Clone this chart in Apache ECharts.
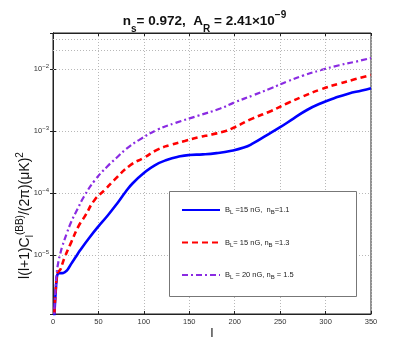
<!DOCTYPE html>
<html>
<head>
<meta charset="utf-8">
<script src="https://cdn.jsdelivr.net/npm/echarts@6/dist/echarts.min.js"></script>
<style>
  html, body { margin: 0; padding: 0; background: #fff; }
  #chart { width: 409px; height: 354px; }
</style>
</head>
<body>
<div id="chart"></div>
<script>
// multipole l and the B-mode spectra
const blueL = [1, 2, 3, 4, 5, 7, 10, 13, 16, 20, 25, 30, 40, 50, 60, 70, 80, 88, 100, 112, 125, 140, 150, 165, 180, 195, 210, 220, 235, 250, 265, 280, 295, 310, 325, 340, 350]
const blueVals = [8e-7, 1.5e-6, 2.6e-6, 4.0e-6, 4.9e-6, 5.1e-6, 5.1e-6, 5.3e-6, 5.8e-6, 7.2e-6, 9.3e-6, 1.2e-5, 1.9e-5, 2.9e-5, 4.3e-5, 6.6e-5, 1.05e-4, 1.45e-4, 2.1e-4, 2.8e-4, 3.4e-4, 3.9e-4, 4.1e-4, 4.2e-4, 4.4e-4, 4.75e-4, 5.4e-4, 6.3e-4, 8.5e-4, 1.15e-3, 1.6e-3, 2.2e-3, 2.8e-3, 3.4e-3, 4.0e-3, 4.5e-3, 4.9e-3]

const redL = [1, 2, 3, 4, 5, 8, 10, 13, 20, 28, 35, 46, 57, 67, 85, 100, 115, 130, 145, 160, 175, 190, 200, 220, 240, 258, 275, 295, 315, 332, 350]
const redVals = [8e-7, 1.6e-6, 2.8e-6, 4.2e-6, 5.2e-6, 5.8e-6, 7e-6, 9.3e-6, 1.6e-5, 2.9e-5, 4.2e-5, 7.8e-5, 1.12e-4, 1.6e-4, 2.8e-4, 3.7e-4, 5.0e-4, 6.0e-4, 6.9e-4, 7.9e-4, 8.8e-4, 1.0e-3, 1.15e-3, 1.6e-3, 2.1e-3, 2.8e-3, 3.6e-3, 4.7e-3, 5.8e-3, 6.8e-3, 8.0e-3]

const purpleL = [1, 2, 3, 4, 6, 8, 10, 15, 20, 27, 34, 46, 60, 70, 81, 95, 115, 135, 159, 184, 200, 221, 240, 258, 275, 295, 315, 332, 350]
const purpleVals = [8e-7, 1.8e-6, 3.2e-6, 5e-6, 7.9e-6, 1.05e-5, 1.35e-5, 2.2e-5, 3.4e-5, 5.5e-5, 8.7e-5, 1.6e-4, 2.7e-4, 3.7e-4, 5.2e-4, 7.2e-4, 1.05e-3, 1.35e-3, 1.75e-3, 2.3e-3, 2.9e-3, 3.8e-3, 4.9e-3, 6.3e-3, 7.8e-3, 9.6e-3, 1.15e-2, 1.3e-2, 1.5e-2]

const seriesNames = ['B_L =15 nG,  n_B=1.1', 'B_L= 15 nG, n_B =1.3', 'B_L = 20 nG, n_B = 1.5']

const font = 'Liberation Sans, Arial, sans-serif'
const gridColor = '#b8b8b8'

function pairs(xs, ys) {
  return xs.map((x, i) => [x, ys[i]])
}

// minor log grid lines at 2..9 x 10^n
const minorLines = []
for (let n = -6; n <= -2; n++) {
  for (let k = 2; k <= 9; k++) {
    const v = k * Math.pow(10, n)
    if (v > 1.12e-6 && v < 0.038) minorLines.push({ yAxis: v })
  }
}

// turn "B_L ... n_B" into rich text with subscripts
function subRich(s, base, sub) {
  return s.replace(/([A-Za-z])_([A-Za-z])/g, '{' + base + '|$1}{' + sub + '|$2}')
    .replace(/(^|\})([^{]+)(?=\{|$)/g, '$1{' + base + '|$2}')
}

const chart = echarts.init(document.getElementById('chart'))

chart.setOption({
  backgroundColor: '#fff',
  animation: false,
  textStyle: { fontFamily: font },
  title: {
    left: 'center',
    top: 5,
    text: '{n|n}{s|s}{n|= 0.972,  A}{s|R}{n| = 2.41×10}{e|−9}',
    textStyle: {
      rich: {
        n: { fontSize: 13.5, color: '#111', fontFamily: font, verticalAlign: 'bottom' },
        s: { fontSize: 10, color: '#111', fontFamily: font, padding: [0, 0, -6, 0], verticalAlign: 'bottom' },
        e: { fontSize: 10, color: '#111', fontFamily: font, padding: [0, 0, 8, 0], verticalAlign: 'bottom' },
      },
    },
  },
  grid: {
    left: 53,
    right: 38,
    top: 33,
    bottom: 40,
    outerBoundsMode: 'none',
    show: true,
    borderColor: '#222',
    borderWidth: 1,
  },
  legend: {
    orient: 'vertical',
    left: 176,
    top: 201,
    z: 200,
    itemWidth: 38,
    itemHeight: 10,
    itemGap: 23,
    data: seriesNames,
    itemStyle: { opacity: 0 },
    formatter: function (name) {
      return subRich(name, 'n', 's')
    },
    textStyle: {
      rich: {
        n: { fontSize: 7.5, color: '#222', fontFamily: font },
        s: { fontSize: 6, color: '#222', fontFamily: font, padding: [5, 0, 0, 0] },
      },
    },
  },
  graphic: [
    {
      type: 'rect',
      z: 100,
      shape: { x: 169.5, y: 191.5, width: 187, height: 105 },
      style: { fill: '#fff', stroke: '#777', lineWidth: 1 },
    },
  ],
  xAxis: [
    {
      type: 'value',
      min: 0,
      max: 350,
      interval: 50,
      name: 'l',
      nameLocation: 'middle',
      nameGap: 13,
      nameMoveOverlap: false,
      nameTextStyle: { fontSize: 13, color: '#111', fontFamily: font },
      axisLine: { lineStyle: { color: '#222' } },
      axisTick: { inside: true, length: 3, lineStyle: { color: '#222' } },
      axisLabel: { fontSize: 7.5, color: '#333', margin: 4 },
      splitLine: { show: true, lineStyle: { color: gridColor, type: [1, 2] } },
    },
    {
      type: 'value',
      position: 'top',
      min: 0,
      max: 350,
      interval: 50,
      axisLine: { lineStyle: { color: '#222' } },
      axisTick: { inside: true, length: 3, lineStyle: { color: '#222' } },
      axisLabel: { show: false },
      splitLine: { show: false },
    },
  ],
  yAxis: [
    {
      type: 'log',
      min: 1.12e-6,
      max: 0.038,
      name: '{n|l(l+1)C}{s|l}{e|(BB)}{n|/(2π)(μK)}{e|2}',
      nameLocation: 'middle',
      nameGap: 17,
      nameMoveOverlap: false,
      nameTextStyle: {
        padding: [0, 84, 0, 0],
        rich: {
          n: { fontSize: 14, color: '#111', fontFamily: font },
          s: { fontSize: 10, color: '#111', fontFamily: font, padding: [0, 0, -9, 0] },
          e: { fontSize: 10, color: '#111', fontFamily: font, padding: [0, 0, 11, 0] },
        },
      },
      axisLine: { lineStyle: { color: '#222' } },
      axisTick: { inside: true, length: 3, lineStyle: { color: '#222' } },
      axisLabel: {
        margin: 4,
        formatter: function (v) {
          const e = Math.log10(v)
          if (Math.abs(e - Math.round(e)) > 0.01) return ''
          return '{b|10}{e|' + String(Math.round(e)).replace('-', '−') + '}'
        },
        rich: {
          b: { fontSize: 7.5, color: '#333', fontFamily: font },
          e: { fontSize: 6, color: '#333', fontFamily: font, padding: [0, 0, 6, 0] },
        },
      },
      splitLine: { show: true, lineStyle: { color: gridColor, type: [1, 2] } },
    },
    {
      type: 'log',
      position: 'right',
      min: 1.12e-6,
      max: 0.038,
      axisLine: { lineStyle: { color: '#222' } },
      axisTick: { inside: true, length: 3, lineStyle: { color: '#222' } },
      axisLabel: { show: false },
      splitLine: { show: false },
    },
  ],
  series: [
    {
      name: seriesNames[0],
      type: 'line',
      data: pairs(blueL, blueVals),
      smooth: 0.5,
      symbol: 'none',
      lineStyle: { color: '#0000ff', width: 2.6, type: 'solid' },
      itemStyle: { color: '#0000ff' },
      markLine: {
        silent: true,
        symbol: 'none',
        label: { show: false },
        lineStyle: { color: gridColor, type: [1, 2], width: 1 },
        data: minorLines,
      },
      z: 3,
    },
    {
      name: seriesNames[1],
      type: 'line',
      data: pairs(redL, redVals),
      smooth: 0.5,
      symbol: 'none',
      lineStyle: { color: '#ff0000', width: 2.6, type: [6, 4] },
      itemStyle: { color: '#ff0000' },
      z: 3,
    },
    {
      name: seriesNames[2],
      type: 'line',
      data: pairs(purpleL, purpleVals),
      smooth: 0.5,
      symbol: 'none',
      lineStyle: { color: '#8a2be2', width: 2.2, type: [6, 3, 2, 3] },
      itemStyle: { color: '#8a2be2' },
      z: 3,
    },
  ],
})
</script>
</body>
</html>
